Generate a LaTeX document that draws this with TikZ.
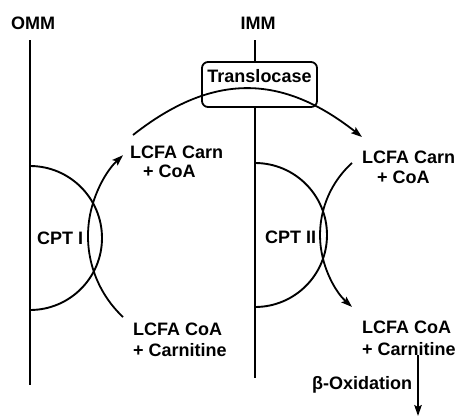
\documentclass[tikz,border=0pt]{standalone}
\usepackage{fontspec}
\newfontfamily\lblfont{Liberation Sans}
\usetikzlibrary{arrows.meta}

\begin{document}
\begin{tikzpicture}[x=1pt,y=-1pt,
  lbl/.style={font=\lblfont\bfseries\fontsize{18}{22}\selectfont, inner sep=0pt},
  membrane/.style={line width=1.6pt},
  enzyme/.style={line width=1.9pt},
  flow/.style={line width=1.8pt, -{Stealth[length=11pt,width=7.5pt,inset=2pt]}},
  carrier/.style={lbl, draw, line width=1.8pt, rounded corners=6pt,
    inner xsep=5pt, inner ysep=7pt, text height=13pt, text depth=18pt,
    minimum width=115pt}]
\useasboundingbox (0,0) rectangle (457,418);

% membrane labels
\node[lbl, anchor=base] (omm) at (33,29) {OMM};
\node[lbl, anchor=base] (imm) at (258,29) {IMM};

% carnitine-acylcarnitine translocase in the inner membrane
\node[carrier, anchor=base] (trans) at (259.5,82) {Translocase};

% membranes
\coordinate (ommtop) at (30,40);
\coordinate (ommbot) at (30,385);
\coordinate (immtop) at (255,40);
\coordinate (immbot) at (255,378);
\draw[membrane] (ommtop) -- (ommbot);
\draw[membrane] (immtop) -- (immtop |- trans.north);
\draw[membrane] (immtop |- trans.south) -- (immbot);

% enzymes bound to the membranes
\draw[enzyme] (30,166) arc[start angle=-90, end angle=90, radius=72];
\draw[enzyme] (255,163) arc[start angle=-90, end angle=90, radius=72];
\node[lbl, anchor=base west] (cpt1) at (37,244) {CPT I};
\node[lbl, anchor=base west] (cpt2) at (265,243) {CPT II};

% substrates and products
\node[lbl, anchor=base west] (carnL)  at (130,158) {LCFA Carn};
\node[lbl, anchor=base west] (carnLb) at (143,177) {+ CoA};
\node[lbl, anchor=base west] (coaL)   at (133,335) {LCFA CoA};
\node[lbl, anchor=base west] (coaLb)  at (133,356) {+ Carnitine};
\node[lbl, anchor=base west] (carnR)  at (362,163) {LCFA Carn};
\node[lbl, anchor=base west] (carnRb) at (377,183) {+ CoA};
\node[lbl, anchor=base west] (coaR)   at (362,333) {LCFA CoA};
\node[lbl, anchor=base west] (coaRb)  at (362,355) {+ Carnitine};
\node[lbl, anchor=base west] (betaox) at (312,389) {β-Oxidation};

% reaction and transport paths
\coordinate (coaLin)  at (123,317);
\coordinate (carnLin) at (123,155);
\coordinate (bigL)    at (133,135);
\coordinate (bigR)    at (362,137);
\coordinate (carnRin) at (352,163);
\coordinate (coaRout) at (352,307);
\coordinate (oxtop)   at (418,355);
\coordinate (oxbot)   at (418,416);

\draw[flow] (coaLin) arc[start angle=133.2, end angle=226.8, radius=111];
\draw[flow] (bigL) .. controls (213,72) and (282,74) .. (bigR);
\draw[flow] (carnRin) arc[start angle=227.9, end angle=132.1, radius=97];
\draw[flow] (oxtop) -- (oxbot);
\end{tikzpicture}
\end{document}
